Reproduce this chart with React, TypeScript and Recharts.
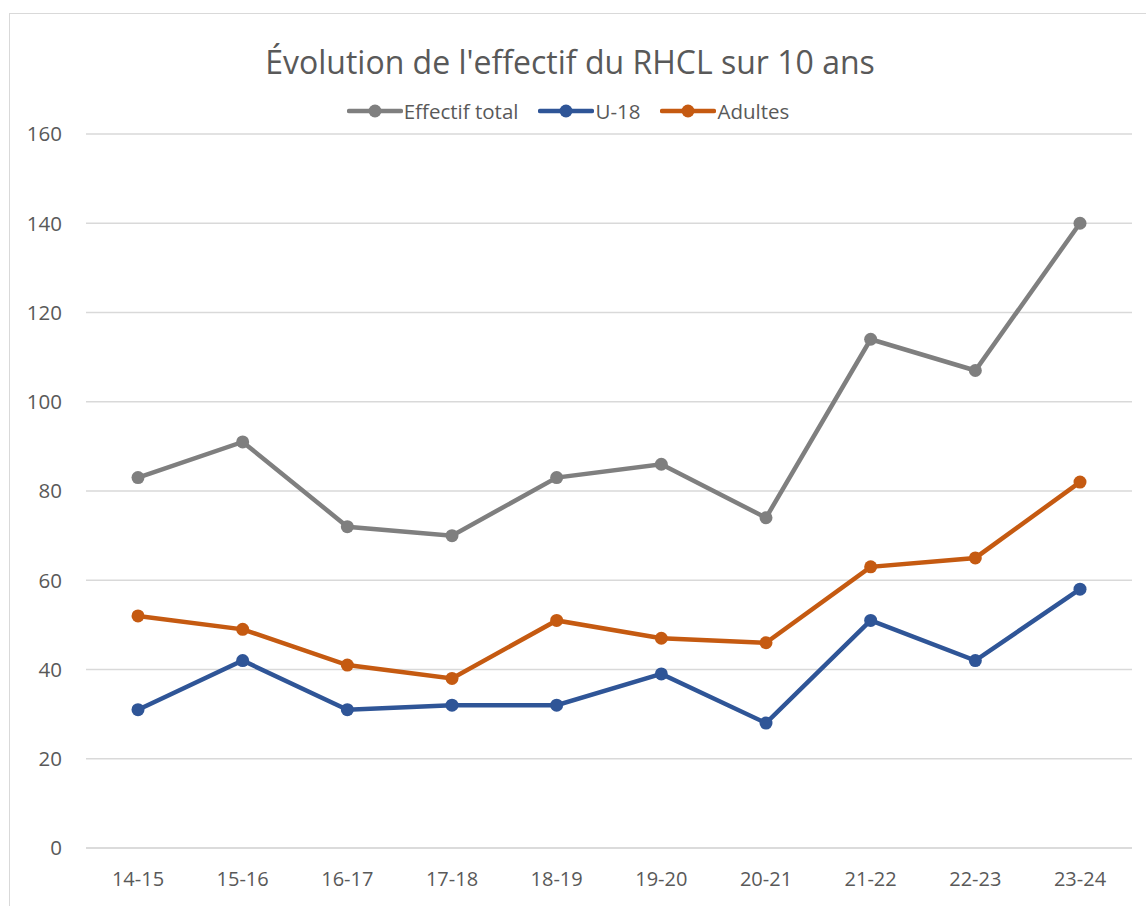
import { CartesianGrid, Line, LineChart, XAxis, YAxis } from 'recharts'

const seasons = ['14-15', '15-16', '16-17', '17-18', '18-19', '19-20', '20-21', '21-22', '22-23', '23-24']
const totalValues = [83, 91, 72, 70, 83, 86, 74, 114, 107, 140]
const u18Values = [31, 42, 31, 32, 32, 39, 28, 51, 42, 58]
const adultValues = [52, 49, 41, 38, 51, 47, 46, 63, 65, 82]
const yTicks = [0, 20, 40, 60, 80, 100, 120, 140, 160]

const series = [
  { key: 'total', label: 'Effectif total', color: '#7f7f7f' },
  { key: 'u18', label: 'U-18', color: '#2f5597' },
  { key: 'adults', label: 'Adultes', color: '#c55a11' },
]

const data = seasons.map((season, i) => ({
  season,
  total: totalValues[i],
  u18: u18Values[i],
  adults: adultValues[i],
}))

const FONT = '"Open Sans", "Noto Sans", sans-serif'
const TEXT = '#595959'

function LegendSwatch({ color }: { color: string }) {
  return (
    <svg width={56} height={16} style={{ display: 'block' }}>
      <line x1={2} y1={8} x2={54} y2={8} stroke={color} strokeWidth={4.5} strokeLinecap="round" />
      <circle cx={28} cy={8} r={6.5} fill={color} />
    </svg>
  )
}

export default function App() {
  return (
    <div
      style={{
        position: 'fixed',
        left: 0,
        top: 0,
        width: 1146,
        height: 906,
        overflow: 'hidden',
        background: '#fff',
        fontFamily: FONT,
      }}
    >
      <div
        style={{
          position: 'absolute',
          left: 9,
          top: 13,
          width: 1160,
          height: 920,
          border: '1px solid #d9d9d9',
          boxSizing: 'border-box',
        }}
      />
      <div
        style={{
          position: 'absolute',
          left: 0,
          top: 38,
          width: 1140,
          textAlign: 'center',
          fontSize: 32,
          color: TEXT,
          lineHeight: '48px',
        }}
      >
        Évolution de l'effectif du RHCL sur 10 ans
      </div>
      <div
        style={{
          position: 'absolute',
          left: 0,
          top: 96,
          width: 1136,
          display: 'flex',
          justifyContent: 'center',
          alignItems: 'center',
          gap: 20,
          fontSize: 20.5,
          color: TEXT,
          lineHeight: '30px',
        }}
      >
        {series.map((s) => (
          <div key={s.key} style={{ display: 'flex', alignItems: 'center', gap: 1 }}>
            <LegendSwatch color={s.color} />
            <span>{s.label}</span>
          </div>
        ))}
      </div>
      <div style={{ position: 'absolute', left: 0, top: 0 }}>
        <LineChart
          width={1146}
          height={906}
          data={data}
          margin={{ top: 134, right: 14, bottom: 0, left: 0 }}
        >
          <CartesianGrid vertical={false} stroke="#d9d9d9" strokeWidth={1.3} />
          <XAxis
            dataKey="season"
            axisLine={{ stroke: '#d9d9d9', strokeWidth: 1.3 }}
            tickLine={false}
            tick={{ fontSize: 20, fill: TEXT, fontFamily: FONT }}
            tickMargin={18}
            interval={0}
            height={58}
            padding={{ left: 52, right: 52 }}
          />
          <YAxis
            domain={[0, 160]}
            ticks={yTicks}
            axisLine={false}
            tickLine={false}
            tickSize={0}
            tickMargin={24}
            width={86}
            tick={{ fontSize: 20.5, fill: TEXT, fontFamily: FONT }}
          />
          {series.map((s) => (
            <Line
              key={s.key}
              type="linear"
              dataKey={s.key}
              stroke={s.color}
              strokeWidth={4.5}
              dot={{ r: 6.5, fill: s.color, stroke: s.color, strokeWidth: 0 }}
              activeDot={false}
              isAnimationActive={false}
            />
          ))}
        </LineChart>
      </div>
    </div>
  )
}
